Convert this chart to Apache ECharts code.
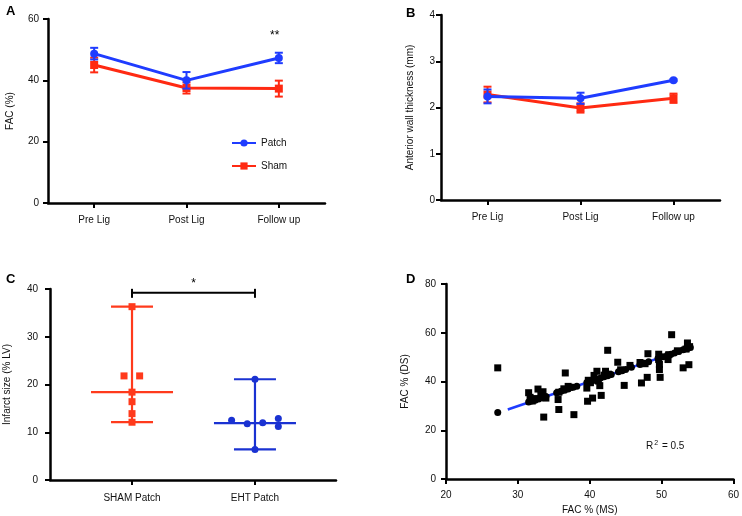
<!DOCTYPE html>
<html><head><meta charset="utf-8">
<script src="https://cdn.jsdelivr.net/npm/echarts@6/dist/echarts.min.js"></script>
<style>html,body{margin:0;padding:0;background:#fff}#c{width:742px;height:516px}</style>
</head><body><div id="c"></div>
<script>
// ---------- DATA ----------
var timeCats = ['Pre Lig', 'Post Lig', 'Follow up'];
// Panel A: FAC (%)
var facPatchMean = [48.7, 40.0, 47.3];
var facPatchErr  = [1.9, 2.7, 1.7];
var facShamMean  = [45.0, 37.5, 37.3];
var facShamErr   = [2.4, 1.8, 2.6];
// Panel B: anterior wall thickness (mm)
var awtPatchMean = [2.24, 2.20, 2.59];
var awtPatchErr  = [0.15, 0.12, 0.02];
var awtShamMean  = [2.28, 1.99, 2.20];
var awtShamErr   = [0.17, 0.10, 0.10];
// Panel C: infarct size (% LV)
var groupCats = ['SHAM Patch', 'EHT Patch'];
var shamInfarct = [36.3, 21.8, 21.8, 18.4, 16.4, 13.9, 12.1];
var shamJitter  = [0, -0.065, 0.062, 0, 0, 0, 0];
var ehtInfarct  = [21.1, 12.5, 11.8, 12.0, 12.9, 11.2, 6.4];
var ehtJitter   = [0, -0.19, -0.063, 0.063, 0.19, 0.19, 0];
var shamSummary = [12.1, 18.4, 36.3]; // min, median, max
var ehtSummary  = [6.4, 11.9, 21.1];
var sigY = 39.2;
// Panel D: FAC % (MS) vs FAC % (DS)
var dsSquares = [[27.2,45.6],[31.5,35.4],[31.7,33.5],[32.0,32.0],[32.5,33.0],[32.8,36.9],[33.2,34.5],[33.5,35.8],[33.6,25.4],[33.9,33.2],[35.6,32.6],[35.7,28.5],[35.7,35.6],[36.4,37.0],[36.6,43.5],[37.0,38.0],[37.2,37.6],[37.8,26.4],[39.6,37.3],[39.7,31.9],[39.8,40.5],[40.1,39.5],[40.4,33.2],[40.6,42.5],[41.0,44.2],[41.2,40.2],[41.4,38.3],[41.6,34.3],[42.0,42.6],[42.2,44.2],[42.5,52.8],[42.6,43.0],[43.9,47.9],[44.3,44.8],[44.8,38.4],[45.6,46.6],[47.2,39.4],[47.0,47.8],[47.7,47.3],[48.0,41.7],[48.1,51.4],[49.6,51.2],[49.6,49.0],[49.7,47.0],[49.7,44.9],[49.8,41.7],[50.9,49.0],[51.0,51.0],[51.4,59.2],[52.2,52.6],[53.0,45.6],[53.4,53.3],[53.6,55.8],[53.8,46.9],[53.9,54.3]];
var msCircles = [[27.2,27.3],[31.5,31.6],[31.9,32.0],[32.4,32.3],[32.9,32.8],[33.4,33.3],[33.9,33.8],[35.4,35.4],[36.0,36.0],[36.5,36.4],[37.0,36.9],[37.7,37.6],[38.2,38.1],[39.6,39.6],[40.0,40.0],[40.5,40.4],[41.0,40.9],[41.5,41.4],[42.0,41.9],[42.5,42.4],[43.0,42.9],[44.0,44.0],[44.5,44.4],[45.0,44.9],[45.8,45.8],[47.0,47.0],[47.6,47.5],[48.2,48.1],[49.5,49.4],[50.2,50.2],[50.8,50.8],[51.3,51.2],[51.8,51.7],[52.4,52.3],[53.0,53.0],[53.6,53.5],[54.0,54.0]];
var fitLine = [[28.6,28.5],[54.2,54.2]];

// ---------- STYLE ----------
var FONT = 'Liberation Sans, Arial, Helvetica, sans-serif';
var BLUE = '#1f3cff', RED = '#ff2a12', CBLUE = '#1a32d2', CRED = '#ff3a1c';

function axisCommon(extra, margin) {
  var base = {
    axisLine: {show: true, onZero: false, lineStyle: {color: '#000', width: 2.5}},
    axisTick: {show: true, length: 5, lineStyle: {color: '#000', width: 2}},
    axisLabel: {color: '#111', fontSize: 10, fontFamily: FONT, margin: margin || 5},
    splitLine: {show: false},
    nameTextStyle: {color: '#111', fontSize: 10, fontFamily: FONT}
  };
  for (var k in extra) base[k] = extra[k];
  return base;
}

function errBar(color, cap) {
  return function (params, api) {
    var x = api.value(0), m = api.value(1), e = api.value(2);
    var t = api.coord([x, m + e]), b = api.coord([x, m - e]);
    var st = {stroke: color, lineWidth: 2};
    return {type: 'group', children: [
      {type: 'line', shape: {x1: t[0], y1: t[1], x2: b[0], y2: b[1]}, style: st},
      {type: 'line', shape: {x1: t[0] - cap, y1: t[1], x2: t[0] + cap, y2: t[1]}, style: st},
      {type: 'line', shape: {x1: b[0] - cap, y1: b[1], x2: b[0] + cap, y2: b[1]}, style: st}
    ]};
  };
}
function errData(mean, err) { return mean.map(function (m, i) { return [i, m, err[i]]; }); }

function summaryRender(color) {
  return function (params, api) {
    var x = api.value(0), lo = api.value(1), med = api.value(2), hi = api.value(3);
    var pl = api.coord([x, lo]), pm = api.coord([x, med]), ph = api.coord([x, hi]);
    var st = {stroke: color, lineWidth: 2.2};
    return {type: 'group', children: [
      {type: 'line', shape: {x1: ph[0], y1: ph[1], x2: pl[0], y2: pl[1]}, style: st},
      {type: 'line', shape: {x1: pm[0] - 41, y1: pm[1], x2: pm[0] + 41, y2: pm[1]}, style: st},
      {type: 'line', shape: {x1: ph[0] - 21, y1: ph[1], x2: ph[0] + 21, y2: ph[1]}, style: st},
      {type: 'line', shape: {x1: pl[0] - 21, y1: pl[1], x2: pl[0] + 21, y2: pl[1]}, style: st}
    ]};
  };
}
var catTick = {show: true, alignWithLabel: true, length: 5, lineStyle: {color: '#000', width: 2}};

var chart = echarts.init(document.getElementById('c'), null, {renderer: 'canvas'});
var option = {
  animation: false,
  backgroundColor: '#fff',
  textStyle: {fontFamily: FONT},
  title: [
    {text: 'A', left: 1, top: 0, textStyle: {fontSize: 13, fontWeight: 'bold', color: '#000', fontFamily: FONT}},
    {text: 'B', left: 401, top: 2, textStyle: {fontSize: 13, fontWeight: 'bold', color: '#000', fontFamily: FONT}},
    {text: 'C', left: 1, top: 268, textStyle: {fontSize: 13, fontWeight: 'bold', color: '#000', fontFamily: FONT}},
    {text: 'D', left: 401, top: 268, textStyle: {fontSize: 13, fontWeight: 'bold', color: '#000', fontFamily: FONT}}
  ],
  legend: {
    data: ['Patch', 'Sham'], orient: 'vertical', left: 226, top: 133, itemGap: 13,
    itemWidth: 24, itemHeight: 9, textStyle: {fontSize: 10, color: '#111', fontFamily: FONT}
  },
  grid: [
    {left: 48, top: 19, width: 277, height: 184},
    {left: 441, top: 15, width: 279, height: 185},
    {left: 50, top: 289, width: 286, height: 191},
    {left: 446, top: 284, width: 291, height: 195}
  ],
  xAxis: [
    axisCommon({gridIndex: 0, type: 'category', data: timeCats, axisTick: catTick}, 12),
    axisCommon({gridIndex: 1, type: 'category', data: timeCats, axisTick: catTick}, 12),
    axisCommon({gridIndex: 2, type: 'value', min: -0.667, max: 1.659,
      axisTick: {show: true, length: 5, customValues: [0, 1], lineStyle: {color: '#000', width: 2}},
      axisLabel: {color: '#111', fontSize: 10, fontFamily: FONT, margin: 13, customValues: [0, 1],
        formatter: function (v) { return groupCats[Math.round(v)]; }}}),
    axisCommon({gridIndex: 3, type: 'value', min: 20, max: 60, interval: 10, name: 'FAC % (MS)',
      nameLocation: 'middle', nameGap: 26}, 11)
  ],
  yAxis: [
    axisCommon({gridIndex: 0, type: 'value', min: 0, max: 60, interval: 20, name: 'FAC (%)', nameLocation: 'middle', nameGap: 33}, 9),
    axisCommon({gridIndex: 1, type: 'value', min: 0, max: 4, interval: 1, name: 'Anterior wall thickness (mm)', nameLocation: 'middle', nameGap: 26}, 6),
    axisCommon({gridIndex: 2, type: 'value', min: 0, max: 40, interval: 10, name: 'Infarct size (% LV)', nameLocation: 'middle', nameGap: 38}, 12),
    axisCommon({gridIndex: 3, type: 'value', min: 0, max: 80, interval: 20, name: 'FAC % (DS)', nameLocation: 'middle', nameGap: 36}, 10)
  ],
  series: [
    // ---- A ----
    {type: 'custom', xAxisIndex: 0, yAxisIndex: 0, renderItem: errBar(RED, 4), data: errData(facShamMean, facShamErr), z: 2},
    {type: 'line', name: 'Sham', xAxisIndex: 0, yAxisIndex: 0, data: facShamMean, symbol: 'rect', symbolSize: 8,
      itemStyle: {color: RED}, lineStyle: {color: RED, width: 3}, z: 3},
    {type: 'custom', xAxisIndex: 0, yAxisIndex: 0, renderItem: errBar(BLUE, 4), data: errData(facPatchMean, facPatchErr), z: 4},
    {type: 'line', name: 'Patch', xAxisIndex: 0, yAxisIndex: 0, data: facPatchMean, symbol: 'circle', symbolSize: 8,
      itemStyle: {color: BLUE}, lineStyle: {color: BLUE, width: 3}, z: 5},
    // ---- B ----
    {type: 'custom', xAxisIndex: 1, yAxisIndex: 1, renderItem: errBar(RED, 4), data: errData(awtShamMean, awtShamErr), z: 2},
    {type: 'line', name: 'Sham', xAxisIndex: 1, yAxisIndex: 1, data: awtShamMean, symbol: 'rect', symbolSize: 8,
      itemStyle: {color: RED}, lineStyle: {color: RED, width: 3}, z: 3},
    {type: 'custom', xAxisIndex: 1, yAxisIndex: 1, renderItem: errBar(BLUE, 4), data: errData(awtPatchMean, awtPatchErr), z: 4},
    {type: 'line', name: 'Patch', xAxisIndex: 1, yAxisIndex: 1, data: awtPatchMean, symbol: 'circle', symbolSize: 8,
      itemStyle: {color: BLUE}, lineStyle: {color: BLUE, width: 3}, z: 5},
    // ---- C ----
    {type: 'custom', xAxisIndex: 2, yAxisIndex: 2, renderItem: summaryRender(CRED),
      data: [[0].concat(shamSummary)], z: 2},
    {type: 'custom', xAxisIndex: 2, yAxisIndex: 2, renderItem: summaryRender(CBLUE),
      data: [[1].concat(ehtSummary)], z: 2},
    {type: 'scatter', xAxisIndex: 2, yAxisIndex: 2, symbol: 'rect', symbolSize: 7, itemStyle: {color: CRED, opacity: 1},
      data: shamInfarct.map(function (v, i) { return [0 + shamJitter[i], v]; }), z: 3},
    {type: 'scatter', xAxisIndex: 2, yAxisIndex: 2, symbol: 'circle', symbolSize: 7, itemStyle: {color: CBLUE, opacity: 1},
      data: ehtInfarct.map(function (v, i) { return [1 + ehtJitter[i], v]; }), z: 3},
    {type: 'custom', xAxisIndex: 2, yAxisIndex: 2, data: [[0, 1, sigY]], z: 4,
      renderItem: function (params, api) {
        var a = api.coord([api.value(0), api.value(2)]), b = api.coord([api.value(1), api.value(2)]);
        var st = {stroke: '#000', lineWidth: 2};
        return {type: 'group', children: [
          {type: 'line', shape: {x1: a[0], y1: a[1], x2: b[0], y2: b[1]}, style: st},
          {type: 'line', shape: {x1: a[0], y1: a[1] - 4, x2: a[0], y2: a[1] + 5}, style: st},
          {type: 'line', shape: {x1: b[0], y1: b[1] - 4, x2: b[0], y2: b[1] + 5}, style: st},
          {type: 'text', style: {text: '*', x: (a[0] + b[0]) / 2, y: a[1] - 3, textAlign: 'center', textVerticalAlign: 'bottom',
            fontSize: 12, fontFamily: FONT, fill: '#000'}}
        ]};
      }},
    // ---- D ----
    {type: 'line', xAxisIndex: 3, yAxisIndex: 3, data: fitLine, symbol: 'none', lineStyle: {color: BLUE, width: 2.5}, z: 2},
    {type: 'scatter', xAxisIndex: 3, yAxisIndex: 3, symbol: 'circle', symbolSize: 7, itemStyle: {color: '#000', opacity: 1}, data: msCircles, z: 3},
    {type: 'scatter', xAxisIndex: 3, yAxisIndex: 3, symbol: 'rect', symbolSize: 7, itemStyle: {color: '#000', opacity: 1}, data: dsSquares, z: 4}
  ],
  graphic: [
    {type: 'text', left: 270, top: 30, style: {text: '**', fontSize: 12, fontFamily: FONT, fill: '#000'}},
    {type: 'text', left: 646, top: 440, style: {text: 'R{s|2} = 0.5', fontSize: 10, fontFamily: FONT, fill: '#111',
      rich: {s: {fontSize: 7, verticalAlign: 'top', padding: [0, 1, 5, 1], fontFamily: FONT, fill: '#111'}}}}
  ]
};
chart.setOption(option);
</script>
</body></html>
